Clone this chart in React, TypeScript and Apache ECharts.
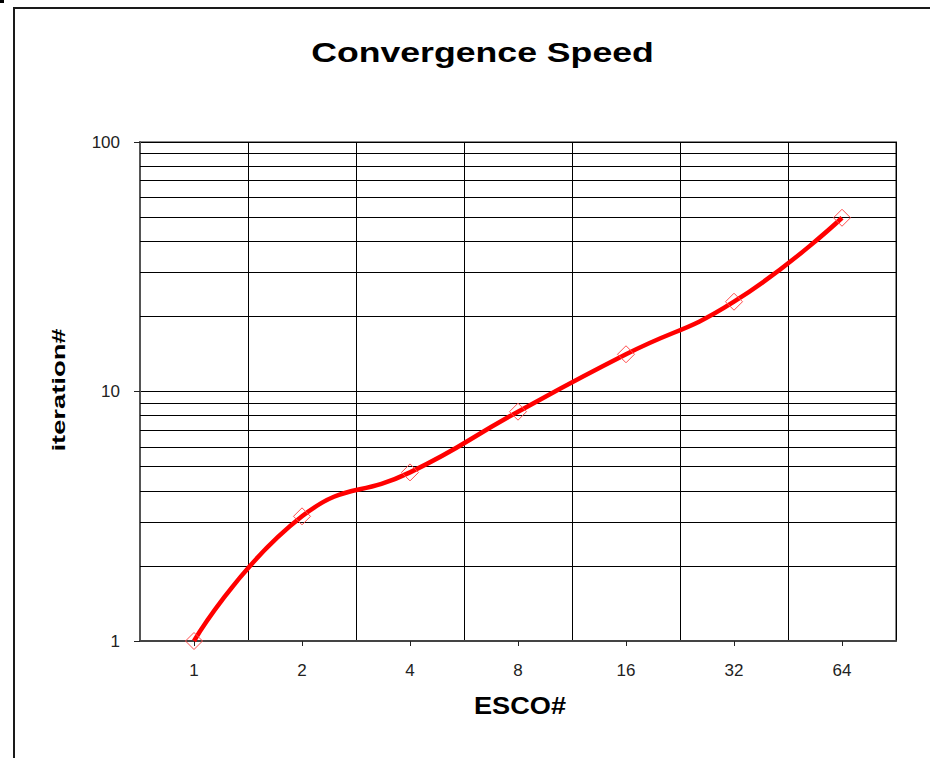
import React, { useEffect, useRef } from 'react';
import * as echarts from 'echarts';

const categories = ['1', '2', '4', '8', '16', '32', '64'];
const iterations = [1, 3.16, 4.74, 8.3, 14.1, 22.9, 49.7];
const minorGridValues = [2, 3, 4, 5, 6, 7, 8, 9, 20, 30, 40, 50, 60, 70, 80, 90];
const titleText = 'Convergence Speed';
const xName = 'ESCO#';
const yName = 'iteration#';

const FONT = '"Liberation Sans", Arial, sans-serif';

export default function App() {
  const ref = useRef<HTMLDivElement>(null);
  useEffect(() => {
    document.body.style.margin = '0';
    const chart = echarts.init(ref.current!, null, { renderer: 'svg' });
    chart.setOption({
      animation: false,
      backgroundColor: '#ffffff',
      textStyle: { fontFamily: FONT },
      grid: {
        left: 140,
        right: 34,
        top: 142,
        bottom: 117,
        show: true,
        borderColor: '#888888',
        borderWidth: 2,
        backgroundColor: 'transparent',
      },
      graphic: [
        { type: 'rect', shape: { x: 0, y: 0, width: 4, height: 3 }, style: { fill: '#000' } },
        {
          type: 'rect',
          shape: { x: 14, y: 8, width: 1000, height: 1000 },
          style: { fill: 'none', stroke: '#1a1a1a', lineWidth: 2 },
          silent: true,
        },
        {
          type: 'text',
          x: 482.5,
          y: 53,
          scaleX: 1.32,
          style: {
            text: titleText,
            fontFamily: FONT,
            fontSize: 27,
            fontWeight: 'bold',
            fill: '#000',
            align: 'center',
            verticalAlign: 'middle',
          },
        },
        {
          type: 'text',
          x: 520,
          y: 706,
          scaleX: 1.18,
          style: {
            text: xName,
            fontFamily: FONT,
            fontSize: 23,
            fontWeight: 'bold',
            fill: '#000',
            align: 'center',
            verticalAlign: 'middle',
          },
        },
        {
          type: 'text',
          x: 59,
          y: 390,
          rotation: Math.PI / 2,
          scaleX: 1.44,
          style: {
            text: yName,
            fontFamily: FONT,
            fontSize: 19,
            fontWeight: 'bold',
            fill: '#000',
            align: 'center',
            verticalAlign: 'middle',
          },
        },
      ],
      xAxis: {
        type: 'category',
        data: categories,
        boundaryGap: true,
        axisLine: { show: true, lineStyle: { color: '#444', width: 2 } },
        axisTick: { show: true, alignWithLabel: true, length: 5, lineStyle: { color: '#222', width: 1 } },
        axisLabel: { color: '#222', fontSize: 17, fontFamily: FONT, margin: 21 },
        splitLine: { show: true, lineStyle: { color: '#000', width: 1 } },
      },
      yAxis: {
        type: 'log',
        logBase: 10,
        min: 1,
        max: 100,
        axisLine: { show: true, lineStyle: { color: '#555', width: 2 } },
        axisTick: { show: true, length: 6, lineStyle: { color: '#222', width: 1 } },
        axisLabel: { color: '#222', fontSize: 17, fontFamily: FONT, margin: 20 },
        splitLine: { show: true, lineStyle: { color: '#000', width: 1 } },
        minorTick: { show: false },
        minorSplitLine: { show: false },
      },
      series: [
        {
          type: 'line',
          data: iterations,
          smooth: 0.5,
          z: 3,
          symbol: 'diamond',
          symbolSize: 17,
          lineStyle: { color: '#ff0000', width: 4.5 },
          itemStyle: { color: 'rgba(255,255,255,0)', borderColor: '#ff4d4d', borderWidth: 1 },
          emphasis: { disabled: true },
          markLine: {
            silent: true,
            z: 1,
            symbol: 'none',
            label: { show: false },
            lineStyle: { color: '#000', width: 1, type: 'solid' },
            data: minorGridValues.map((v) => ({ yAxis: v })),
          },
        },
      ],
    });
    return () => chart.dispose();
  }, []);
  return <div ref={ref} style={{ width: 930, height: 758, background: '#fff' }} />;
}
